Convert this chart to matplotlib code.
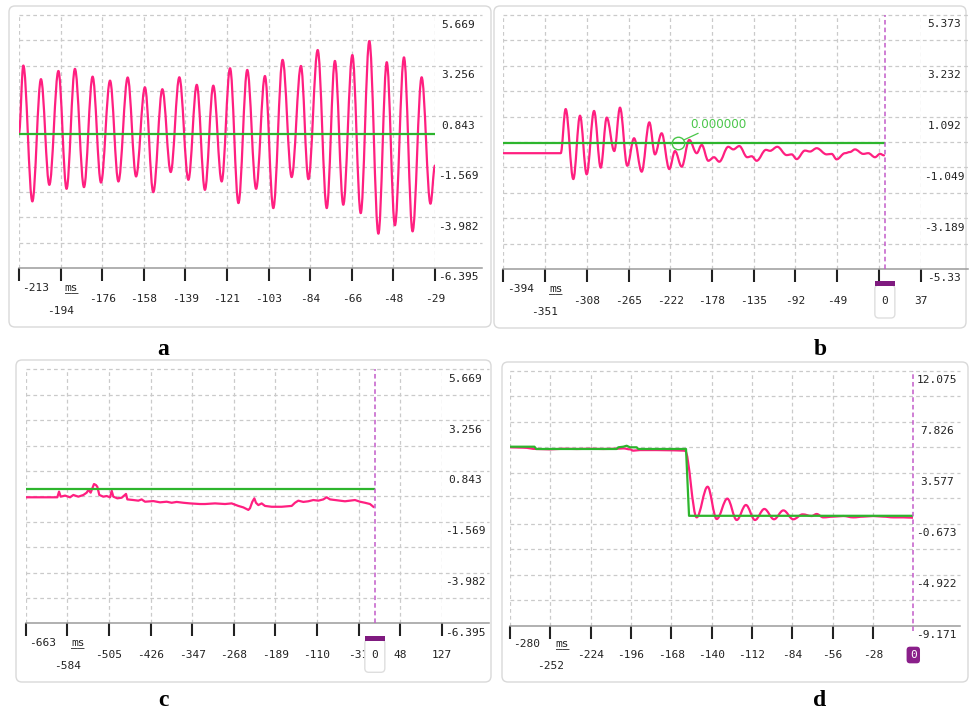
import numpy as np
import matplotlib
matplotlib.use('Agg')
import matplotlib.pyplot as plt
from matplotlib.patches import FancyBboxPatch, PathPatch, Rectangle
from matplotlib.path import Path
from matplotlib.transforms import IdentityTransform

W, H = 969, 711
fig = plt.figure(figsize=(W / 100, H / 100), dpi=100)
fig.patch.set_facecolor('white')

MONO = 'DejaVu Sans Mono'
PINK = '#ff1f80'
GREEN = '#2db52d'
GREEN_TXT = '#4ac64a'
VLINE = '#c25bc9'
PURPLE = '#7f1a7f'
GRID = '#cacaca'
TXT = '#222222'

# ---------------- data ----------------
# panel a
a_t = [-212.7, -210.8, -206.8, -203.0, -199.3, -195.3, -191.7, -188.0, -184.0, -180.2,
       -176.5, -172.5, -168.8, -164.7, -161.0, -157.1, -153.4, -149.4, -145.7, -141.9,
       -137.9, -134.2, -130.6, -126.9, -123.2, -119.5, -115.8, -111.9, -108.0, -104.1,
       -100.4, -96.3, -92.3, -88.2, -84.9, -80.8, -76.8, -73.2, -69.5, -65.5,
       -61.8, -58.0, -54.0, -50.3, -46.7, -42.7, -38.9, -34.9, -31.0, -29.0]
a_v = [0.03, 3.26, -3.22, 2.61, -2.43, 3.00, -2.62, 3.10, -2.54, 2.73,
       -2.32, 2.54, -2.27, 2.69, -2.03, 2.22, -2.78, 2.13, -1.82, 2.70,
       -2.19, 2.34, -2.67, 2.30, -2.27, 3.13, -3.30, 3.05, -2.62, 2.76,
       -3.54, 3.53, -2.06, 3.24, -2.16, 4.00, -3.54, 3.48, -3.38, 3.76,
       -3.78, 4.43, -4.76, 3.42, -4.36, 3.65, -4.65, 2.70, -3.33, -1.51]
a_ref = 0.0
a_xlim = (-212.7, -29.0)
a_ylim = (-6.395, 5.669)
a_xlabels = ['-213', '-194', '-176', '-158', '-139', '-121', '-103', '-84', '-66', '-48', '-29']
a_ylabels = ['5.669', '3.256', '0.843', '-1.569', '-3.982', '-6.395']

# panel b
b_t = [-394.0, -334.7, -329.6, -321.7, -314.8, -307.9, -300.3, -293.4, -287.2, -279.4,
       -273.5, -266.0, -259.0, -251.1, -243.2, -237.4, -230.5, -222.6, -216.7, -209.8,
       -202.0, -194.3, -189.1, -182.3, -176.4, -171.0, -161.7, -156.5, -150.3, -142.1,
       -137.5, -132.4, -122.8, -118.6, -111.1, -101.4, -96.2, -91.1, -82.5, -77.3,
       -70.4, -60.1, -54.9, -49.8, -41.2, -36.0, -30.9, -22.3, -17.1, -10.2,
       -5.0, -0.9]
b_v = [-0.45, -0.45, 1.41, -1.54, 1.13, -1.34, 1.33, -1.06, 1.05, -0.36,
       1.47, -0.98, 0.18, -1.23, 0.85, -0.50, 0.39, -1.12, -0.36, -1.02,
       0.11, -0.45, -0.10, -0.77, -0.62, -0.81, -0.18, -0.29, -0.15, -0.62,
       -0.58, -0.77, -0.31, -0.35, -0.18, -0.53, -0.50, -0.70, -0.34, -0.38,
       -0.24, -0.50, -0.48, -0.71, -0.45, -0.40, -0.29, -0.48, -0.45, -0.62,
       -0.48, -0.54]
b_ref = 0.0
b_ref_end = -0.9
b_cursor_t = -213.3
b_cursor_label = '0.000000'
b_xlim = (-394.0, 37.0)
b_ylim = (-5.33, 5.373)
# the label under the cursor box (-6) is hidden in the reference
b_xlabels = ['-394', '-351', '-308', '-265', '-222', '-178', '-135', '-92', '-49', '', '37']
b_ylabels = ['5.373', '3.232', '1.092', '-1.049', '-3.189', '-5.33']

# panel c
c_t = [-662.4, -602.9, -599.7, -596.6, -588.3, -578.8, -572.5, -563.0, -553.5, -547.2,
       -544.0, -539.6, -535.8, -533.3, -529.5, -527.0, -523.2, -515.6, -509.2, -502.9,
       -499.7, -496.6, -489.0, -480.7, -472.5, -470.0, -458.6, -449.1, -442.8, -436.4,
       -420.6, -407.9, -395.3, -385.8, -376.3, -363.6, -351.0, -332.0, -322.5, -303.5,
       -284.5, -271.9, -259.2, -249.7, -240.2, -237.1, -232.6, -228.8, -225.7, -221.2,
       -214.9, -208.6, -195.9, -176.9, -157.9, -151.6, -145.3, -135.8, -126.3, -116.8,
       -107.3, -97.8, -91.5, -85.1, -75.6, -66.2, -56.7, -47.2, -37.7, -28.2,
       -18.7, -9.2, -2.8]
c_v = [-0.41, -0.41, -0.14, -0.38, -0.33, -0.41, -0.30, -0.38, -0.30, -0.19,
       -0.06, -0.19, 0.06, 0.22, 0.17, 0.09, -0.30, -0.38, -0.35, -0.41,
       -0.10, -0.38, -0.46, -0.43, -0.25, -0.51, -0.54, -0.57, -0.51, -0.62,
       -0.59, -0.65, -0.62, -0.67, -0.63, -0.67, -0.70, -0.73, -0.73, -0.70,
       -0.73, -0.70, -0.82, -0.89, -1.01, -0.93, -0.62, -0.46, -0.67, -0.78,
       -0.70, -0.82, -0.86, -0.86, -0.82, -0.67, -0.57, -0.63, -0.60, -0.54,
       -0.57, -0.51, -0.41, -0.51, -0.54, -0.57, -0.60, -0.57, -0.54, -0.62,
       -0.67, -0.73, -0.86]
c_ref = 0.0
c_ref_span = (-663.0, -1.0)
c_xlim = (-663.0, 127.0)
c_ylim = (-6.395, 5.669)
c_xlabels = ['-663', '-584', '-505', '-426', '-347', '-268', '-189', '-110', '-31', '48', '127']
c_ylabels = ['5.669', '3.256', '0.843', '-1.569', '-3.982', '-6.395']

# panel d
d_pink_t = [-280.0, -270.7, -261.5, -252.2, -243.0, -233.7, -224.5, -215.2, -206.0, -201.3,
            -196.7, -194.4, -189.8, -178.2, -166.6, -158.5, -150.4, -142.8, -136.5, -129.1,
            -122.6, -116.2, -109.9, -103.4, -96.7, -90.2, -83.3, -76.8, -70.6, -67.1,
            -62.5, -55.5, -48.6, -41.7, -34.7, -27.8, -20.8, -13.9, -6.9, 0.0]
d_pink_v = [5.70, 5.67, 5.56, 5.53, 5.58, 5.56, 5.58, 5.56, 5.58, 5.61,
            5.53, 5.42, 5.47, 5.47, 5.45, 5.42, -0.13, 2.42, -0.27, 1.43,
            -0.35, 0.90, -0.35, 0.57, -0.29, 0.45, -0.29, 0.12, -0.02, 0.15,
            -0.13, -0.07, -0.02, -0.13, -0.07, -0.02, -0.07, -0.13, -0.13, -0.16]
d_green_t = [-280.0, -263.0, -261.8, -206.0, -204.8, -201.3, -199.0, -196.7, -192.1, -190.9,
             -157.8, -155.7, 0.0]
d_green_v = [5.75, 5.75, 5.56, 5.56, 5.70, 5.75, 5.83, 5.70, 5.70, 5.56,
             5.56, 0.0, 0.0]
d_xlim = (-280.0, 0.0)
d_ylim = (-9.171, 12.075)
d_xlabels = ['-280', '-252', '-224', '-196', '-168', '-140', '-112', '-84', '-56', '-28', '0']
d_ylabels = ['12.075', '7.826', '3.577', '-0.673', '-4.922', '-9.171']

panel_letters = ['a', 'b', 'c', 'd']


# ---------------- helpers ----------------
def px_rect(x0, y0, x1, y1):
    return [x0 / W, 1 - y1 / H, (x1 - x0) / W, (y1 - y0) / H]


def panel_box(x0, y0, x1, y1):
    p = FancyBboxPatch((x0, H - y1), x1 - x0, y1 - y0,
                       boxstyle='round,pad=0,rounding_size=6',
                       transform=IdentityTransform(), fc='white', ec='#d9d9d9',
                       lw=1.0, zorder=-5)
    fig.add_artist(p)


def smooth_line(ax, t, v, **kw):
    t = np.asarray(t, float)
    v = np.asarray(v, float)
    verts = [(t[0], v[0])]
    codes = [Path.MOVETO]
    for i in range(1, len(t)):
        d = (t[i] - t[i - 1]) * 0.36
        verts += [(t[i - 1] + d, v[i - 1]), (t[i] - d, v[i]), (t[i], v[i])]
        codes += [Path.CURVE4] * 3
    ax.add_patch(PathPatch(Path(verts, codes), fill=False, capstyle='round',
                           joinstyle='round', **kw))


def make_panel(rect, xlim, ylim, xlabels, ylabels, skip_grid=(), skip_tick=(),
               rows=(20, 31.5, 43)):
    x0, y0, x1, y1 = rect
    ax = fig.add_axes(px_rect(*rect))
    ax.set_xlim(*xlim)
    ax.set_ylim(*ylim)
    ax.patch.set_visible(False)
    for s in ax.spines.values():
        s.set_visible(False)
    xt = np.linspace(xlim[0], xlim[1], len(xlabels))
    yt = np.linspace(ylim[0], ylim[1], 11)
    ext = 1 + 47 / (x1 - x0)
    ytr = ax.get_yaxis_transform()
    for y in yt[1:]:
        ax.plot([0, ext], [y, y], transform=ytr, color=GRID, lw=0.9,
                ls=(0, (3, 2.5)), clip_on=False, zorder=1)
    ax.plot([0, ext], [ylim[0], ylim[0]], transform=ytr, color='#9b9b9b', lw=1.1,
            clip_on=False, zorder=2)
    for i, x in enumerate(xt):
        if i in skip_grid:
            continue
        ax.plot([x, x], ylim, color=GRID, lw=0.9, ls=(0, (3, 2.5)), zorder=1)
    ticks = [x for i, x in enumerate(xt) if i not in skip_tick]
    ax.set_xticks(ticks)
    ax.set_xticklabels([])
    ax.set_yticks([])
    ax.tick_params(axis='x', direction='out', length=9, width=1.5, color='#222222')
    for i, (x, s) in enumerate(zip(xt, xlabels)):
        if not s:
            continue
        if i == 0:
            dx, dy = 17, rows[0]
        elif i == 1:
            dx, dy = 0, rows[2]
        else:
            dx, dy = 0, rows[1]
        if i in skip_tick and i == len(xlabels) - 1:
            continue
        ax.annotate(s, xy=(x, 0), xycoords=('data', 'axes fraction'),
                    xytext=(dx * 0.72, -dy * 0.72), textcoords='offset points',
                    ha='center', va='center', fontsize=8, family=MONO, color=TXT,
                    annotation_clip=False)
    for txt in ('ms', '__'):
        ax.annotate(txt, xy=(xt[0], 0), xycoords=('data', 'axes fraction'),
                    xytext=(52.5 * 0.72, -(rows[0] + 3.0) * 0.72),
                    textcoords='offset points', ha='center', va='baseline',
                    fontsize=8, family=MONO, color=TXT, annotation_clip=False)
    for y, s in zip(yt[::-2], ylabels):
        ax.annotate(s, xy=(1, y), xycoords=('axes fraction', 'data'),
                    xytext=(23.5 * 0.72, -9.5 * 0.72), textcoords='offset points',
                    ha='center', va='center', fontsize=8, family=MONO, color=TXT,
                    annotation_clip=False)
    return ax


def zero_cursor_box(ax, ylim):
    ax.plot([0, 0], ylim, color=VLINE, lw=1.1, ls=(0, (3, 2)), zorder=4)
    x, y = ax.transData.transform((0, ylim[0]))
    box = FancyBboxPatch((x - 10, y - 49), 20, 33,
                         boxstyle='round,pad=0,rounding_size=4',
                         transform=IdentityTransform(), fc='white', ec='#dedede',
                         lw=1.0, zorder=5)
    fig.add_artist(box)
    bar = Rectangle((x - 10, y - 17.5), 20, 5, transform=IdentityTransform(),
                    fc=PURPLE, ec='none', zorder=6)
    fig.add_artist(bar)
    fig.text(x / W, (y - 32) / H, '0', ha='center', va='center', fontsize=8,
             family=MONO, color=TXT, zorder=7)


# ---------------- panel frames ----------------
panel_box(9, 6, 491, 327)
panel_box(494, 6, 966, 328)
panel_box(16, 360, 491, 682)
panel_box(502, 362, 968, 682)

# ---------------- panel a ----------------
ax_a = make_panel((19, 15, 435, 268), a_xlim, a_ylim, a_xlabels, a_ylabels)
smooth_line(ax_a, a_t, a_v, ec=PINK, lw=1.6, zorder=3)
ax_a.plot(a_xlim, [a_ref, a_ref], color=GREEN, lw=1.6, zorder=4)

# ---------------- panel b ----------------
ax_b = make_panel((503.3, 15, 920.7, 269), b_xlim, b_ylim, b_xlabels, b_ylabels)
smooth_line(ax_b, b_t, b_v, ec=PINK, lw=1.6, zorder=3)
ax_b.plot([b_xlim[0], b_ref_end], [b_ref, b_ref], color=GREEN, lw=1.6, zorder=4)
ax_b.plot([b_cursor_t], [b_ref], marker='o', ms=9, mfc='none', mec=GREEN_TXT,
          mew=1.0, zorder=6)
ax_b.annotate(b_cursor_label, xy=(b_cursor_t, b_ref), xytext=(11.7 * 0.72, 12 * 0.72),
              textcoords='offset points', ha='left', va='bottom', color=GREEN_TXT,
              fontsize=8.6, family='DejaVu Sans',
              arrowprops=dict(arrowstyle='-', color=GREEN_TXT, lw=0.9,
                              shrinkA=0, shrinkB=4.5))
zero_cursor_box(ax_b, b_ylim)

# ---------------- panel c ----------------
ax_c = make_panel((25.7, 369.3, 441.7, 623.3), c_xlim, c_ylim, c_xlabels, c_ylabels)
ax_c.plot(c_t, c_v, color=PINK, lw=1.6, zorder=3, solid_joinstyle='round')
ax_c.plot(c_ref_span, [c_ref, c_ref], color=GREEN, lw=1.6, zorder=4)
zero_cursor_box(ax_c, c_ylim)

# ---------------- panel d ----------------
ax_d = make_panel((510, 370.7, 913.3, 626), d_xlim, d_ylim, d_xlabels, d_ylabels,
                  skip_grid=(10,), skip_tick=(10,), rows=(18, 29, 40))
smooth_line(ax_d, d_pink_t, d_pink_v, ec=PINK, lw=1.6, zorder=3)
ax_d.plot(d_green_t, d_green_v, color=GREEN, lw=1.6, zorder=4)
ax_d.plot([0, 0], [d_ylim[0] - 0.45, d_ylim[1]], color=VLINE, lw=1.1,
          ls=(0, (3, 2)), zorder=4, clip_on=False)
xd, yd = ax_d.transData.transform((0, d_ylim[0]))
fig.text(xd / W, (yd - 29) / H, '0', ha='center', va='center', fontsize=8,
         family=MONO, color='white', zorder=7,
         bbox=dict(boxstyle='round,pad=0.3,rounding_size=0.3', fc='#8a1f8a', ec='none'))

# ---------------- panel letters ----------------
for (lx, ly), s in zip([(163, 355), (820, 355), (163, 706), (820, 706)], panel_letters):
    fig.text(lx / W, 1 - ly / H, s, ha='center', va='baseline', fontsize=17,
             family='Liberation Serif', weight='bold', color='black')

fig.savefig('out.png', dpi=100)
